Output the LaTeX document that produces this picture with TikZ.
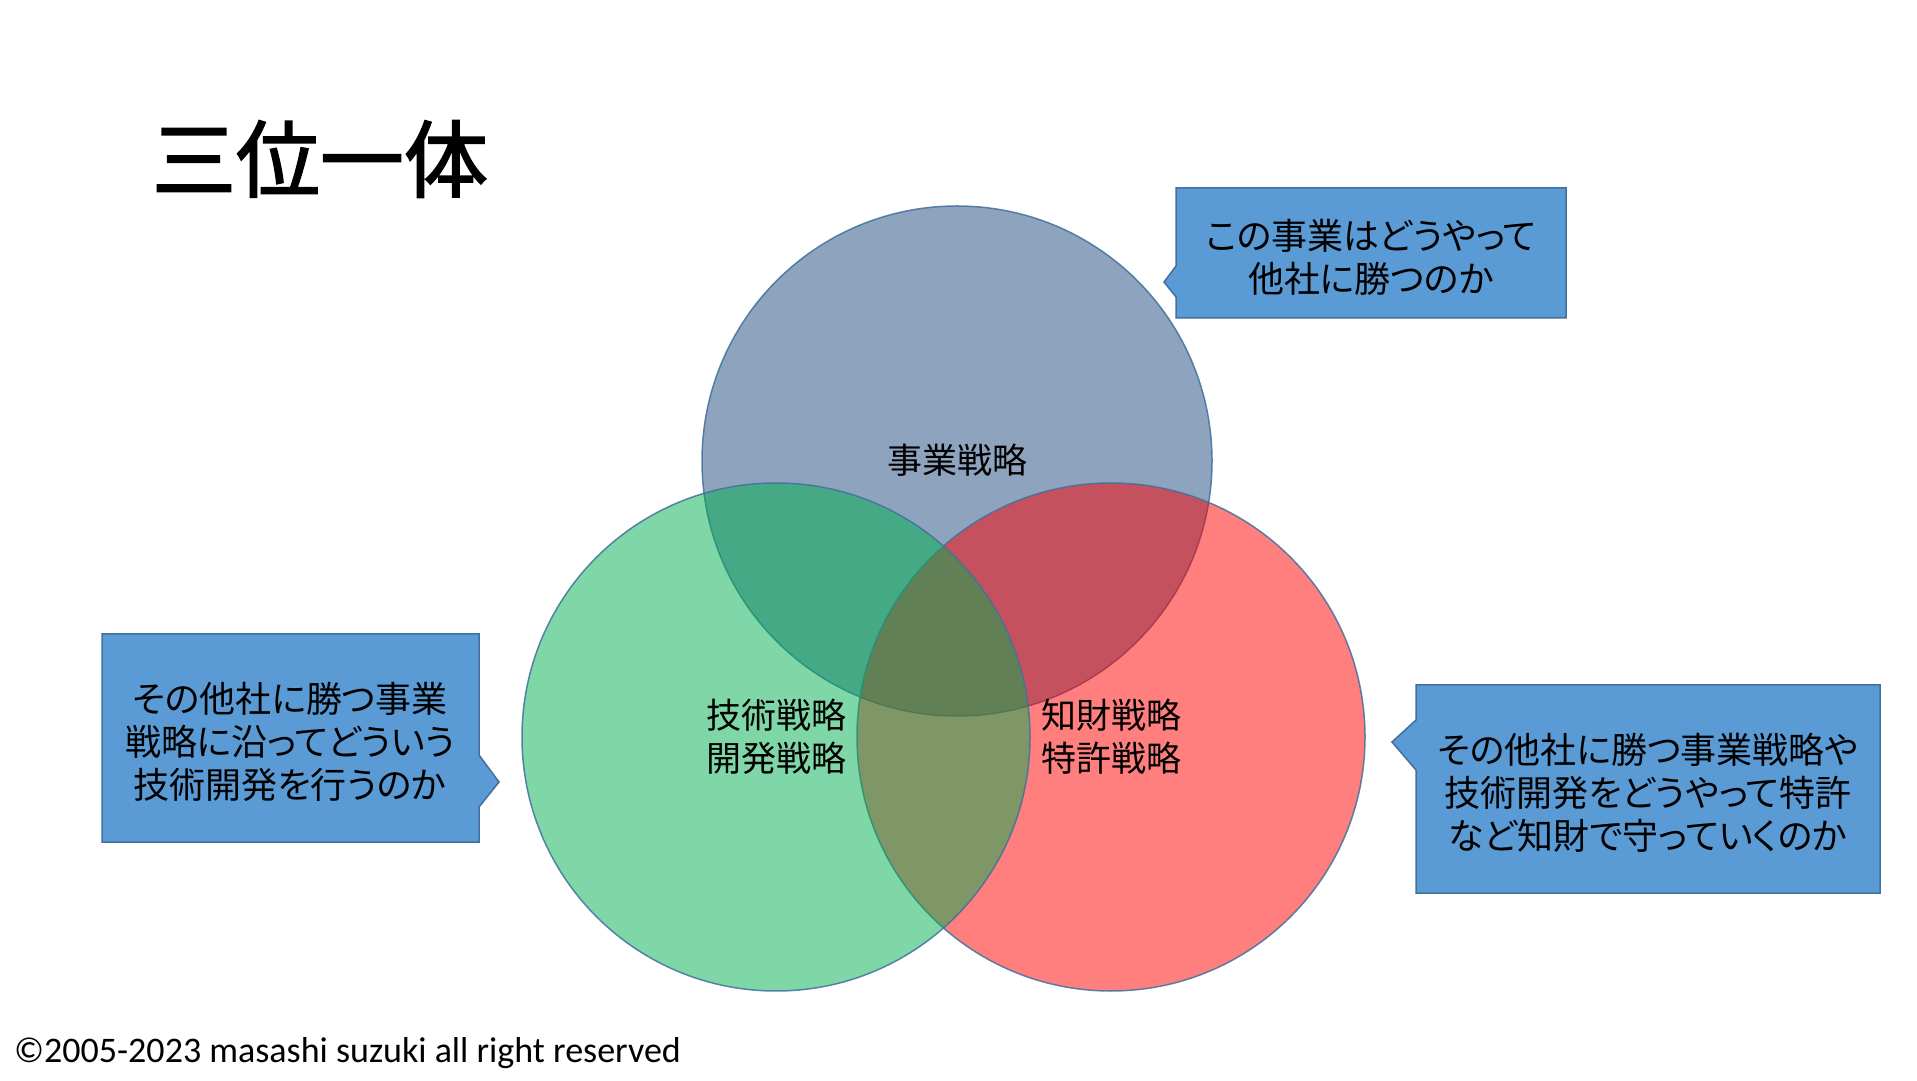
\documentclass[tikz,border=0pt]{standalone}
\usepackage{fontspec}
\setmainfont{Carlito}
\newfontfamily\jpfont{Noto Sans CJK JP}
\newfontfamily\jppfont[RawFeature=+palt]{Noto Sans CJK JP}
\newfontfamily\titlefont[FakeBold=2]{Noto Sans CJK JP}
\definecolor{bizblue}{HTML}{1F497D}
\definecolor{techgreen}{HTML}{00B050}
\definecolor{ipred}{HTML}{FF0000}
\definecolor{rimblue}{HTML}{41719C}
\definecolor{boxblue}{HTML}{5B9BD5}
\tikzset{
  venn/.style={draw=rimblue,draw opacity=0.85,line width=1.5pt,fill opacity=0.5},
  callout/.style={draw=rimblue,line width=1.5pt,fill=boxblue},
  lbl/.style={align=center,font=\jpfont\fontsize{35}{43}\selectfont},
  qtext/.style={align=center,font=\jppfont\fontsize{36}{43}\selectfont},
}
\begin{document}
\begin{tikzpicture}[x=1pt,y=1pt]
\useasboundingbox[fill=white] (0,0) rectangle (1917,1080);

\node[font=\titlefont\fontsize{84}{84}\selectfont] (title) at (320,921) {三位一体};

% the three circles
\draw[venn,fill=bizblue]   (957,619) circle (255pt);
\draw[venn,fill=ipred]     (1111,343) circle (254pt);
\draw[venn,fill=techgreen] (776,343) circle (254pt);

\node[lbl] (biz)  at (957,620) {事業戦略};
\node[lbl] (tech) at (776,343) {技術戦略\\開発戦略};
\node[lbl] (ip)   at (1111,343) {知財戦略\\特許戦略};

% callouts
\draw[callout] (1176,762) -- (1566,762) -- (1566,892) -- (1176,892) -- (1176,814) -- (1164,798) -- (1176,783) -- cycle;
\node[qtext] (bizq) at (1371,823) {この事業はどうやって\\他社に勝つのか};

\draw[callout] (102,238) -- (479,238) -- (479,273) -- (499,298) -- (479,325) -- (479,446) -- (102,446) -- cycle;
\node[qtext] (techq) at (290,338) {その他社に勝つ事業\\戦略に沿ってどういう\\技術開発を行うのか};

\draw[callout] (1416,187) -- (1880,187) -- (1880,395) -- (1416,395) -- (1416,360) -- (1392,338) -- (1416,310) -- cycle;
\node[qtext] (ipq) at (1648,287) {その他社に勝つ事業戦略や\\技術開発をどうやって特許\\など知財で守っていくのか};

\node[anchor=base west,font=\fontsize{36}{38}\selectfont,inner sep=0pt] (copy) at (14,18) {©2005-2023 masashi suzuki all right reserved};

\end{tikzpicture}
\end{document}
